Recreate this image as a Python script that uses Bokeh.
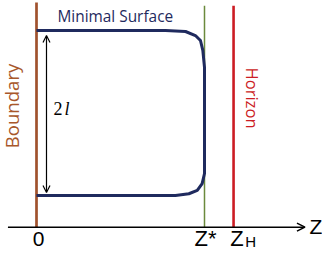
import math
from bokeh.plotting import figure
from bokeh.models import Range1d, Arrow, OpenHead, Label
from bokeh.embed import file_html
from bokeh.resources import INLINE

# ---- data (arbitrary units: z* = 1, half-width l = 1) ----
z_boundary = 0.0
z_star = 1.0
z_horizon = 1.173
z_axis_end = 1.598
y_axis = -1.384
boundary_top = 1.34
line_top = 1.30
half_width = 1.0
arrow_top = 0.94
arrow_bottom = -0.964
arrow_z = 0.0595

surface_z = [0.0, 0.768, 0.887, 0.946, 0.976, 0.990, 1.0, 1.0, 1.0, 0.986, 0.957, 0.907, 0.827, 0.0]
surface_y = [1.0, 1.0, 0.988, 0.939, 0.879, 0.758, 0.552, -0.212, -0.733, -0.855, -0.939, -0.979, -1.0, -1.0]

tick_labels = ["0", "Z*", "Z", "H"]
axis_label = "Z"
texts = ["Minimal Surface", "Boundary", "Horizon", "2", "l"]

# ---- figure ----
p = figure(width=322, height=251, output_backend="svg", toolbar_location=None,
           x_range=Range1d(-0.2143, 1.7024), y_range=Range1d(-1.6788, 1.3636),
           x_axis_type=None, y_axis_type=None, min_border=0)
p.grid.visible = False
p.outline_line_color = None
p.background_fill_color = "white"
p.border_fill_color = "white"

# axis with arrow
p.add_layout(Arrow(x_start=-0.17, y_start=y_axis, x_end=z_axis_end, y_end=y_axis,
                   line_width=1.5, line_color="black",
                   end=OpenHead(size=8, line_width=1.5, line_color="black")))

# vertical lines
p.line([z_boundary, z_boundary], [y_axis, boundary_top], line_color="#A0522D", line_width=2.7)
p.line([z_star, z_star], [y_axis, line_top], line_color="#6B8A3C", line_width=1.5)
p.line([z_horizon, z_horizon], [y_axis, line_top], line_color="#CC1C24", line_width=2.6)

# minimal surface
p.line(surface_z, surface_y, line_color="#1F2A5E", line_width=3, line_join="round")

# 2l arrow
p.add_layout(Arrow(x_start=arrow_z, y_start=arrow_bottom, x_end=arrow_z, y_end=arrow_top,
                   line_width=1.2, line_color="black",
                   start=OpenHead(size=7, line_width=1.2, line_color="black"),
                   end=OpenHead(size=7, line_width=1.2, line_color="black")))

def lab(text, x, y, dx, dy, size, font="Open Sans", color="black", align="center",
        angle=0.0, style="normal"):
    p.add_layout(Label(x=x, y=y, x_offset=dx, y_offset=dy, text=text,
                       text_font=font, text_font_size=f"{size}px", text_color=color,
                       text_align=align, text_baseline="middle", angle=angle,
                       text_font_style=style))

# tick labels
tick_font = "Liberation Sans"
lab(tick_labels[0], z_boundary, y_axis, 2, -12, 21, font=tick_font)
lab(tick_labels[1], z_star, y_axis, 1, -11.8, 22, font=tick_font)
lab(tick_labels[2], z_horizon, y_axis, 3.5, -11.8, 22, font=tick_font)
lab(tick_labels[3], z_horizon, y_axis, 17, -14.3, 15, font=tick_font)
lab(axis_label, z_axis_end, y_axis, 4.5, 0.2, 21, font=tick_font, align="left")

# other texts
lab(texts[0], z_boundary, half_width, 21, 13.5, 15.4, color="#1F2A5E", align="left")
lab(texts[1], z_boundary, 0, -25, 7, 18.6, color="#A8572B", angle=math.pi / 2)
lab(texts[2], z_horizon, 0, 18.8, 15, 16.6, color="#CC1C24", angle=-math.pi / 2)
lab(texts[3], arrow_z, 0, 7, 4, 18, font="Liberation Serif", align="left")
lab(texts[4], arrow_z, 0, 18, 4, 18, font="Liberation Serif", align="left", style="italic")

open("out.html", "w").write(file_html(p, INLINE))
